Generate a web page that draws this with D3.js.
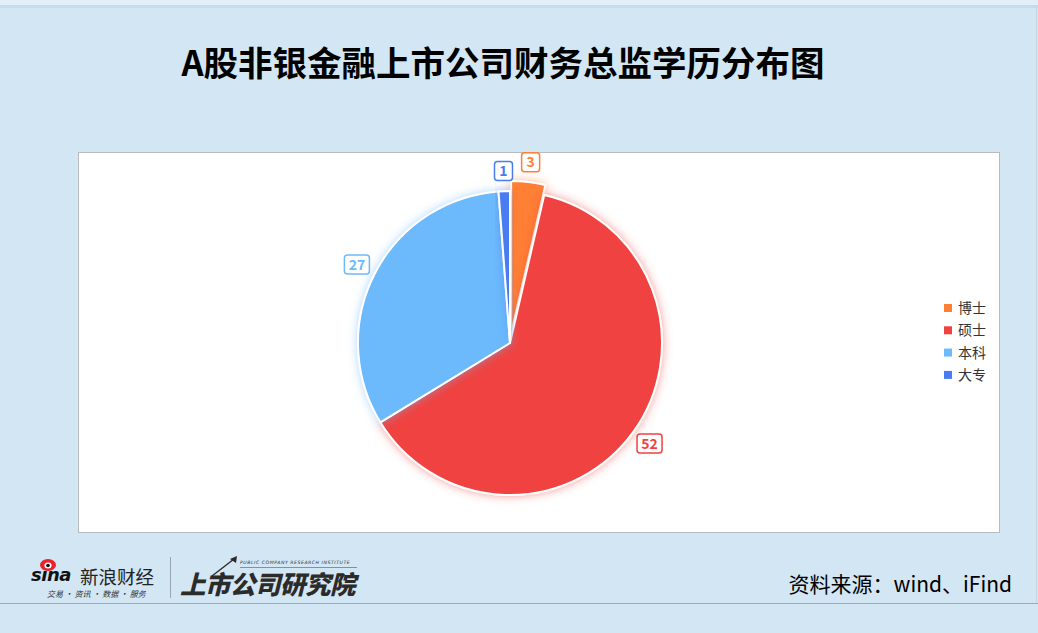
<!DOCTYPE html>
<html><head><meta charset="utf-8">
<script src="https://cdn.jsdelivr.net/npm/d3@7/dist/d3.min.js"></script>
<style>
html,body{margin:0;padding:0;background:#d2e6f4;}
svg{display:block;}
</style></head>
<body>
<svg id="c" width="1038" height="633"></svg>
<script>
const categories = ["博士", "硕士", "本科", "大专"];
const values = [3, 52, 27, 1];
const colors = ["#ff7f35", "#f0423f", "#6cb9fc", "#4a7cf0"];
const titleText = "A股非银金融上市公司财务总监学历分布图";
const sourceText = "资料来源：wind、iFind";

const svg = d3.select("#c");
const W = 1038, H = 633;
const font = "'Noto Sans CJK SC','Microsoft YaHei',sans-serif";

// background
svg.append("rect").attr("width", W).attr("height", H).attr("fill", "#d2e6f4");
svg.append("rect").attr("x", 0).attr("y", 0).attr("width", W).attr("height", 5).attr("fill", "#e2eff8");
svg.append("rect").attr("x", 0).attr("y", 5).attr("width", W).attr("height", 3).attr("fill", "#c6dcec");
svg.append("line").attr("x1", W - 1.5).attr("x2", W - 1.5).attr("y1", 5).attr("y2", 603).attr("stroke", "#c8d6e0").attr("stroke-width", 1);

// title
svg.append("text").attr("x", 503).attr("y", 76).attr("text-anchor", "middle")
  .attr("font-family", font).attr("font-weight", "bold").attr("font-size", 34.5)
  .attr("fill", "#000").text(titleText);

// plot box
svg.append("rect").attr("x", 78.5).attr("y", 152.5).attr("width", 921).attr("height", 380)
  .attr("fill", "#fff").attr("stroke", "#b8bcc0").attr("stroke-width", 1);

// filters for glow
const defs = svg.append("defs");
colors.forEach((c, i) => {
  const f = defs.append("filter").attr("id", "g" + i).attr("x", "-30%").attr("y", "-30%").attr("width", "160%").attr("height", "160%");
  f.append("feGaussianBlur").attr("in", "SourceAlpha").attr("stdDeviation", 5).attr("result", "b");
  f.append("feFlood").attr("flood-color", c).attr("flood-opacity", 0.55).attr("result", "fc");
  f.append("feComposite").attr("in", "fc").attr("in2", "b").attr("operator", "in").attr("result", "sh");
  const m = f.append("feMerge");
  m.append("feMergeNode").attr("in", "sh");
  m.append("feMergeNode").attr("in", "SourceGraphic");
});

const cx = 510, cy = 343, R = 152;
const pie = d3.pie().sort(null).value(d => d)(values);
const arc = d3.arc().innerRadius(0).outerRadius(R);
const explode = [10, 0, 0, 0];

const g = svg.append("g").attr("transform", `translate(${cx},${cy})`);
pie.forEach((p, i) => {
  const mid = (p.startAngle + p.endAngle) / 2;
  const dx = Math.sin(mid) * explode[i], dy = -Math.cos(mid) * explode[i];
  g.append("path").attr("d", arc(p)).attr("fill", colors[i])
    .attr("stroke", "#fff").attr("stroke-width", 2).attr("stroke-linejoin", "round")
    .attr("transform", `translate(${dx},${dy})`)
    .attr("filter", `url(#g${i})`);
});
// labels
pie.forEach((p, i) => {
  const mid = (p.startAngle + p.endAngle) / 2;
  const lr = R + 20 + explode[i];
  const x = Math.sin(mid) * lr, y = -Math.cos(mid) * lr;
  const txt = String(values[i]);
  const w = txt.length === 1 ? 18 : 25, h = 19;
  const lg = g.append("g").attr("transform", `translate(${x},${y})`);
  lg.append("rect").attr("x", -w / 2).attr("y", -h / 2).attr("width", w).attr("height", h)
    .attr("rx", 3).attr("fill", "#fff").attr("stroke", colors[i]).attr("stroke-width", 1.5);
  lg.append("text").attr("text-anchor", "middle").attr("dy", "0.36em")
    .attr("font-family", font).attr("font-weight", "bold").attr("font-size", 14)
    .attr("fill", colors[i]).text(txt);
});

// legend
const leg = svg.append("g");
categories.forEach((c, i) => {
  const y = 308 + i * 22.3;
  leg.append("rect").attr("x", 944).attr("y", y - 4).attr("width", 8).attr("height", 8).attr("fill", colors[i]);
  leg.append("text").attr("x", 958).attr("y", y).attr("dy", "0.36em")
    .attr("font-family", font).attr("font-size", 14).attr("fill", "#333").text(c);
});

// footer line
svg.append("line").attr("x1", 0).attr("x2", W).attr("y1", 603.5).attr("y2", 603.5).attr("stroke", "#a4a8ac").attr("stroke-width", 1);

// sina logo
svg.append("text").attr("x", 31).attr("y", 581).attr("font-family", "'DejaVu Sans',sans-serif")
  .attr("font-weight", "bold").attr("font-style", "italic").attr("font-size", 18).attr("letter-spacing", -0.5)
  .attr("fill", "#111").text("sina");
svg.append("ellipse").attr("cx", 48).attr("cy", 565).attr("rx", 8).attr("ry", 6).attr("fill", "#e8232b");
svg.append("ellipse").attr("cx", 48).attr("cy", 565.5).attr("rx", 3.6).attr("ry", 3).attr("fill", "#fff");
svg.append("circle").attr("cx", 48).attr("cy", 565.5).attr("r", 1.8).attr("fill", "#111");
svg.append("text").attr("x", 80).attr("y", 584).attr("font-family", font).attr("font-size", 18.5).attr("fill", "#222").text("新浪财经");
svg.append("text").attr("x", 47).attr("y", 597).attr("font-family", font).attr("font-size", 8).attr("fill", "#333")
  .attr("font-style", "italic").text("交易 · 资讯 · 数据 · 服务");
svg.append("line").attr("x1", 170.5).attr("x2", 170.5).attr("y1", 557).attr("y2", 598).attr("stroke", "#9aa4ac").attr("stroke-width", 1);

// research institute
svg.append("text").attr("x", 180).attr("y", 594).attr("font-family", font).attr("font-weight", "900")
  .attr("font-style", "italic").attr("font-size", 25.5).attr("fill", "#2b2b2b").attr("letter-spacing", -0.5).text("上市公司研究院");
svg.append("text").attr("x", 240).attr("y", 564).attr("font-family", "'DejaVu Sans',sans-serif")
  .attr("font-size", 4.6).attr("font-style", "italic").attr("fill", "#333").attr("letter-spacing", 0.55).text("PUBLIC COMPANY RESEARCH INSTITUTE");
svg.append("line").attr("x1", 240).attr("x2", 357).attr("y1", 567.5).attr("y2", 567.5).attr("stroke", "#555").attr("stroke-width", 0.6);
svg.append("path").attr("d", "M212,576 L234,559").attr("stroke", "#2b2b2b").attr("stroke-width", 1.4).attr("fill", "none");
svg.append("path").attr("d", "M237,556 L236,563 L230,559 Z").attr("fill", "#2b2b2b");

// source
svg.append("text").attr("x", 1012).attr("y", 592).attr("text-anchor", "end")
  .attr("font-family", font).attr("font-size", 21).attr("fill", "#000").text(sourceText);
</script>
</body></html>
